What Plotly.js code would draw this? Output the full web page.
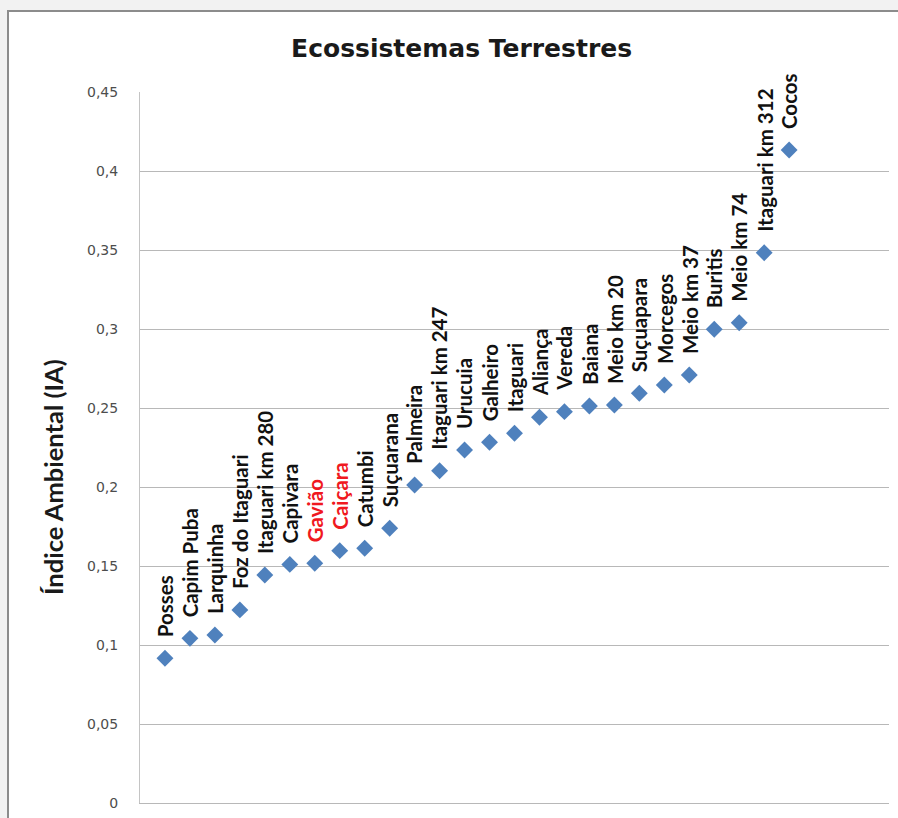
<!DOCTYPE html>
<html>
<head>
<meta charset="utf-8">
<script src="https://cdn.plot.ly/plotly-3.0.1.min.js"></script>
<style>
  html, body { margin: 0; padding: 0; background: #f2f2f2; width: 898px; height: 818px; overflow: hidden; }
  #frame { position: absolute; left: 7px; top: 10px; width: 900px; height: 820px; background: #ffffff; border-left: 2px solid #8c8c8c; border-top: 2px solid #8c8c8c; }
  #chart { position: absolute; left: 0; top: 0; width: 898px; height: 818px; }
</style>
</head>
<body>
<div id="frame"></div>
<div id="chart"></div>
<script>
const sites = ["Posses", "Capim Puba", "Larquinha", "Foz do Itaguari", "Itaguari km 280", "Capivara", "Gavião", "Caiçara", "Catumbi", "Suçuarana", "Palmeira", "Itaguari km 247", "Urucuia", "Galheiro", "Itaguari", "Aliança", "Vereda", "Baiana", "Meio km 20", "Suçuapara", "Morcegos", "Meio km 37", "Buritis", "Meio km 74", "Itaguari km 312", "Cocos"];
const positions = [1, 2, 3, 4, 5, 6, 7, 8, 9, 10, 11, 12, 13, 14, 15, 16, 17, 18, 19, 20, 21, 22, 23, 24, 25, 26];
const ia = [0.0916, 0.1042, 0.1063, 0.1222, 0.1443, 0.1510, 0.1517, 0.1597, 0.1612, 0.1739, 0.2013, 0.2103, 0.2234, 0.2283, 0.2340, 0.2441, 0.2477, 0.2513, 0.2519, 0.2593, 0.2646, 0.2709, 0.2998, 0.3040, 0.3483, 0.4133];
const highlighted = ["Gavião", "Caiçara"];
const yTickVals = [0, 0.05, 0.1, 0.15, 0.2, 0.25, 0.3, 0.35, 0.4, 0.45];
const yTickText = ["0", "0,05", "0,1", "0,15", "0,2", "0,25", "0,3", "0,35", "0,4", "0,45"];

const LABEL_GAP = 21;

const annotations = sites.map((s, i) => ({
  x: positions[i], y: ia[i], xref: "x", yref: "y",
  text: "<b>" + s + "</b>", showarrow: false, textangle: -90,
  xanchor: "center", yanchor: "middle", yshift: 0,
  font: { family: "Lato, sans-serif", size: 20.5, color: highlighted.includes(s) ? "#f01820" : "#111111" }
}));
annotations.push({
  xref: "paper", yref: "paper", x: 0, y: 0.4585, xanchor: "center", yanchor: "middle", xshift: -87,
  text: "<b>Índice Ambiental (IA)</b>", showarrow: false, textangle: -90,
  font: { family: "Lato, sans-serif", size: 25.5, color: "#1a1a1a" }
});

const trace = {
  x: positions, y: ia, type: "scatter", mode: "markers",
  marker: { symbol: "diamond", size: 13, color: "#4f81bd" },
  hoverinfo: "skip"
};

const layout = {
  width: 898, height: 818,
  paper_bgcolor: "rgba(0,0,0,0)", plot_bgcolor: "rgba(0,0,0,0)",
  margin: { l: 140, r: 9, t: 92, b: 15 },
  showlegend: false,
  title: { text: "<b>Ecossistemas Terrestres</b>", x: 0.514, xanchor: "center", y: 0.941, yanchor: "middle",
           font: { family: "DejaVu Sans, sans-serif", size: 25, color: "#1a1a1a" } },
  xaxis: { range: [0, 30], showgrid: false, zeroline: false, showticklabels: false, ticks: "",
           showline: true, linecolor: "#b8b8b8", linewidth: 1 },
  yaxis: { range: [0, 0.45], tickvals: yTickVals, ticktext: yTickText, showgrid: true, gridcolor: "#b8b8b8", gridwidth: 1,
           zeroline: false, showline: true, linecolor: "#c4c4c4", ticks: "", ticklabelstandoff: 18,
           tickfont: { family: "DejaVu Sans, sans-serif", size: 14, color: "#4d4d4d" } },
  annotations: annotations
};

const gd = document.getElementById("chart");
Plotly.newPlot(gd, [trace], layout, { displayModeBar: false, staticPlot: true }).then(() => {
  const ya = gd._fullLayout.yaxis;
  const anns = gd.querySelectorAll(".annotation");
  const update = {};
  for (let i = 0; i < sites.length; i++) {
    const el = anns[i] && anns[i].querySelector(".annotation-text");
    if (!el) continue;
    const r = el.getBoundingClientRect();
    const pointY = ya._offset + ya.l2p(ia[i]);
    const target = pointY - LABEL_GAP;
    update["annotations[" + i + "].yshift"] = r.bottom - target;
  }
  return Plotly.relayout(gd, update);
});
</script>
</body>
</html>
